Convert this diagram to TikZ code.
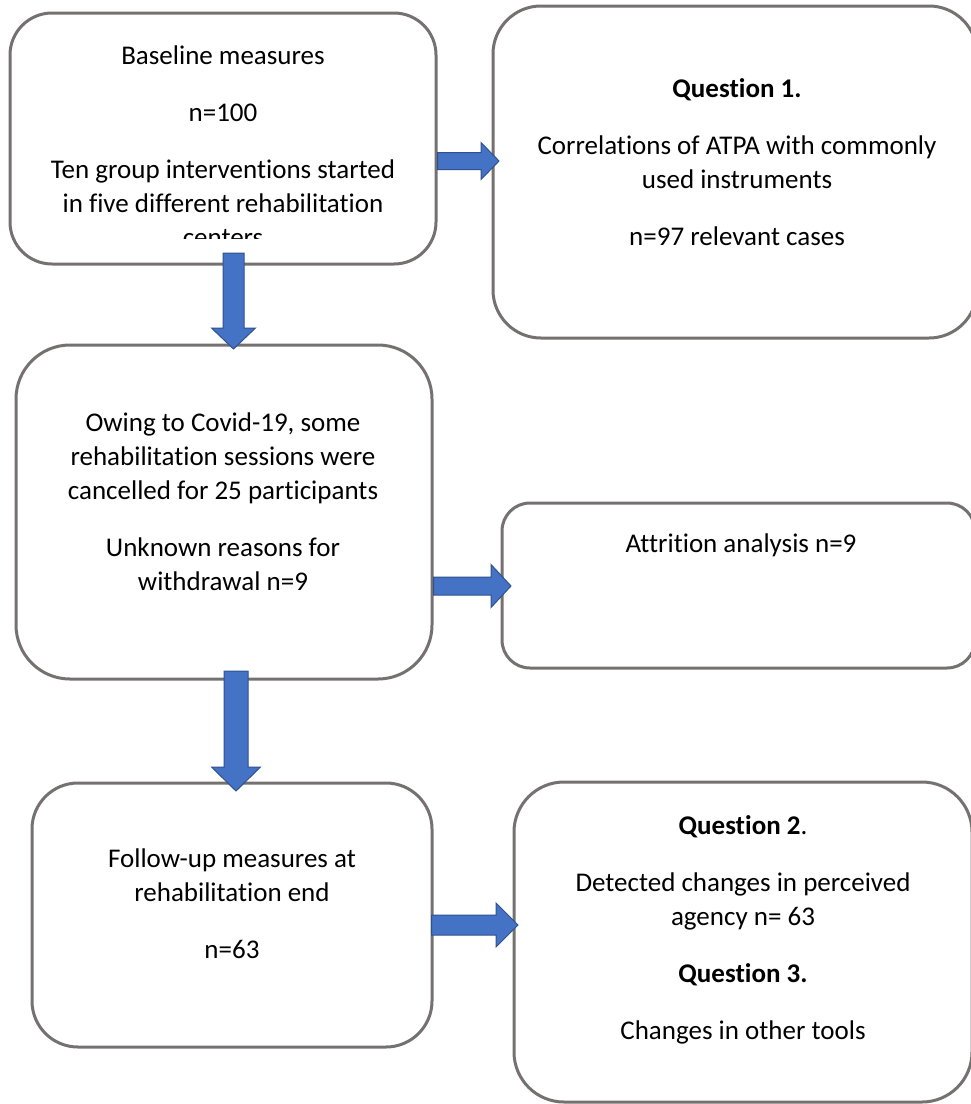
\documentclass[tikz,border=0pt]{standalone}
\usepackage{fontspec}
\setmainfont[Ligatures=NoCommon]{Carlito}
\usetikzlibrary{calc}
\definecolor{boxgray}{HTML}{767171}
\definecolor{arrfill}{HTML}{4472C4}
\definecolor{arredge}{HTML}{2F528F}
\tikzset{
  box/.style={draw=boxgray, line width=3pt, fill=white, rounded corners=#1, inner sep=0pt},
  txt/.style={align=center, inner sep=0pt, font=\fontsize{27}{34}\selectfont},
  harrow/.style n args={3}{fill=arrfill, draw=arredge, line width=1pt, line join=miter,
    to path={let \p1=(\tikztostart), \p2=(\tikztotarget) in
      (\x1,\y1+#1) -- (\x2-#3,\y1+#1) -- (\x2-#3,\y1+#2) -- (\x2,\y1) --
      (\x2-#3,\y1-#2) -- (\x2-#3,\y1-#1) -- (\x1,\y1-#1) -- cycle}},
  varrow/.style n args={3}{fill=arrfill, draw=arredge, line width=1pt, line join=miter,
    to path={let \p1=(\tikztostart), \p2=(\tikztotarget) in
      (\x1-#1,\y1) -- (\x1-#1,\y2+#3) -- (\x1-#2,\y2+#3) -- (\x1,\y2) --
      (\x1+#2,\y2+#3) -- (\x1+#1,\y2+#3) -- (\x1+#1,\y1) -- cycle}}
}
\begin{document}
\begin{tikzpicture}[x=1pt,y=-1pt]
\useasboundingbox (0,0) rectangle (971,1104);
\clip (0,0) rectangle (971,1104);
\fill[white] (0,0) rectangle (971,1104);

% boxes
\node[box=42pt, minimum width=426pt, minimum height=251pt] (b1) at (223,138.5) {};
\node[box=48pt, minimum width=484pt, minimum height=332pt] (b2) at (735,172) {};
\node[box=54pt, minimum width=416pt, minimum height=334pt] (b3) at (224,512) {};
\node[box=28pt, minimum width=473pt, minimum height=165pt] (b4) at (738.5,585.5) {};
\node[box=46pt, minimum width=400pt, minimum height=264pt] (b5) at (232,915) {};
\node[box=50pt, minimum width=458pt, minimum height=320pt] (b6) at (743,942) {};

% texts
\begin{scope}
\clip (10,13) rectangle (436,238.5);
\node[txt] (t1) at (223,146) {Baseline measures\\[23pt] n=100\\[23pt] Ten group interventions started\\ in five different rehabilitation\\ centers};
\end{scope}
\node[txt] (t2) at (737,162) {\textbf{Question 1.}\\[23pt] Correlations of ATPA with commonly\\ used instruments\\[23pt] n=97 relevant cases};
\node[txt] (t3) at (223,502) {Owing to Covid-19, some\\ rehabilitation sessions were\\ cancelled for 25 participants\\[23pt] Unknown reasons for\\ withdrawal n=9};
\node[txt] (t4) at (741,545) {Attrition analysis n=9};
\node[txt] (t5) at (232,904) {Follow-up measures at\\ rehabilitation end\\[23pt] n=63};
\node[txt] (t6) at (743,929.5) {\textbf{Question 2}.\\[23pt] Detected changes in perceived\\ agency n= 63\\[23pt] \textbf{Question 3.}\\[23pt] Changes in other tools};

% arrow end points
\coordinate (a1s) at ($(b1.east)+(0,22.5)$);
\coordinate (a1e) at ($(b2.west)+(7.5,0)$);
\coordinate (a2s) at ($(b3.east)+(0,74)$);
\coordinate (a2e) at ($(b4.west)+(10.5,0)$);
\coordinate (a3s) at ($(b5.east)+(-2,10)$);
\coordinate (a3e) at ($(b6.west)+(5.5,0)$);
\coordinate (d1s) at ($(b1.south)+(10.5,-12.5)$);
\coordinate (d1e) at ($(b3.north)+(9.5,5.5)$);
\coordinate (d2s) at ($(b3.south)+(12,-9.5)$);
\coordinate (d2e) at ($(b5.north)+(4,9.5)$);

% block arrows
\draw[harrow={8.5pt}{18.5pt}{18pt}] (a1s) to (a1e);
\draw[harrow={9pt}{21.5pt}{20pt}] (a2s) to (a2e);
\draw[harrow={10pt}{22pt}{22pt}] (a3s) to (a3e);
\draw[varrow={10.5pt}{22pt}{21pt}] (d1s) to (d1e);
\draw[varrow={12pt}{24.5pt}{24pt}] (d2s) to (d2e);
\end{tikzpicture}
\end{document}
